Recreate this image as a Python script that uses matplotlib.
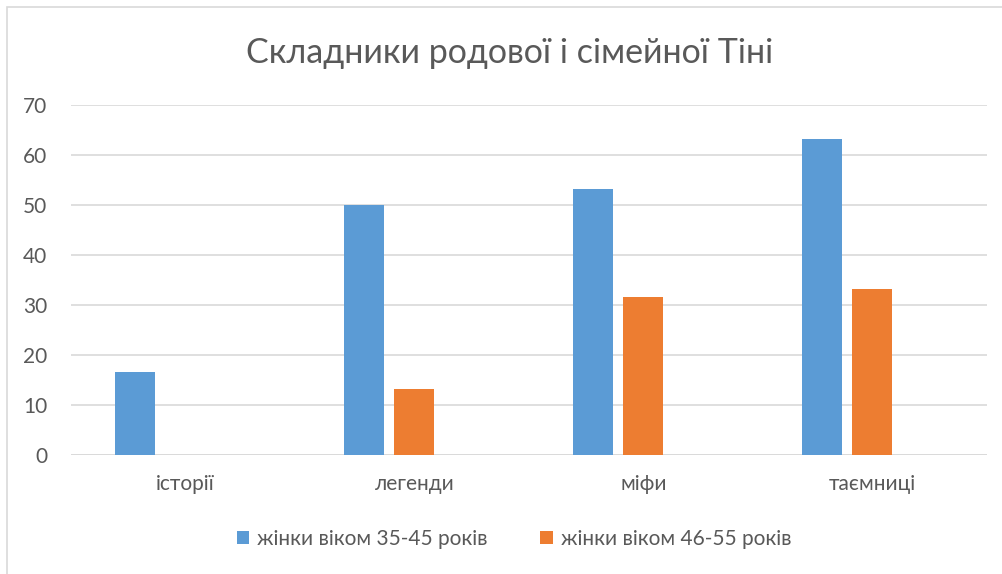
import numpy as np
import matplotlib
matplotlib.use("Agg")
import matplotlib.pyplot as plt
from matplotlib.patches import Rectangle

plt.rcParams['font.family'] = ['Lato', 'DejaVu Sans']

# Дані
categories = ["історії", "легенди", "міфи", "таємниці"]
series_35_45 = [16.7, 50.0, 53.3, 63.3]
series_46_55 = [0.0, 13.3, 31.6, 33.3]
labels = ["жінки віком 35-45 років", "жінки віком 46-55 років"]
title = "Складники родової і сімейної Тіні"

blue = "#5B9BD5"
orange = "#ED7D31"
text_col = "#595959"
grid_col = "#D9D9D9"

W, H = 1003, 574
fig = plt.figure(figsize=(W / 100, H / 100), dpi=100)

# рамка діаграми
fig.patches.append(Rectangle((7 / W, -0.01), 1.02, (574 - 7) / H + 0.01,
                             transform=fig.transFigure, fill=False,
                             edgecolor=grid_col, linewidth=1.2))

ax = fig.add_axes([71 / W, (H - 455) / H, (987 - 71) / W, 350 / H])

# в Excel група має три місця, третє порожнє
x = np.arange(len(categories))
w = 40 / 229
step = 50 / 229
ax.bar(x - step, series_35_45, width=w, color=blue, label=labels[0], zorder=3)
ax.bar(x, series_46_55, width=w, color=orange, label=labels[1], zorder=3)

ax.set_xlim(-0.5, len(categories) - 0.5)
ax.set_ylim(0, 70)
ax.set_yticks(range(0, 71, 10))
ax.yaxis.grid(True, color=grid_col, linewidth=1.2, zorder=0)
ax.set_xticks(x)
ax.set_xticklabels(categories)
ax.tick_params(axis='both', length=0, labelsize=15, colors=text_col)
ax.tick_params(axis='y', pad=17)
ax.tick_params(axis='x', pad=14)
for s in ax.spines.values():
    s.set_visible(False)
ax.axhline(0, color=grid_col, linewidth=1.2, zorder=2)

fig.text(510 / W, (H - 53) / H, title, ha='center', va='center',
         fontsize=24.5, color=text_col)

ax.legend(loc='center', bbox_to_anchor=(514 / W, (H - 539) / H),
          bbox_transform=fig.transFigure, ncol=2, frameon=False,
          fontsize=15, labelcolor=text_col, handlelength=0.6,
          handleheight=0.6, handletextpad=0.4, columnspacing=2.5)

fig.savefig("out.png", dpi=100)
